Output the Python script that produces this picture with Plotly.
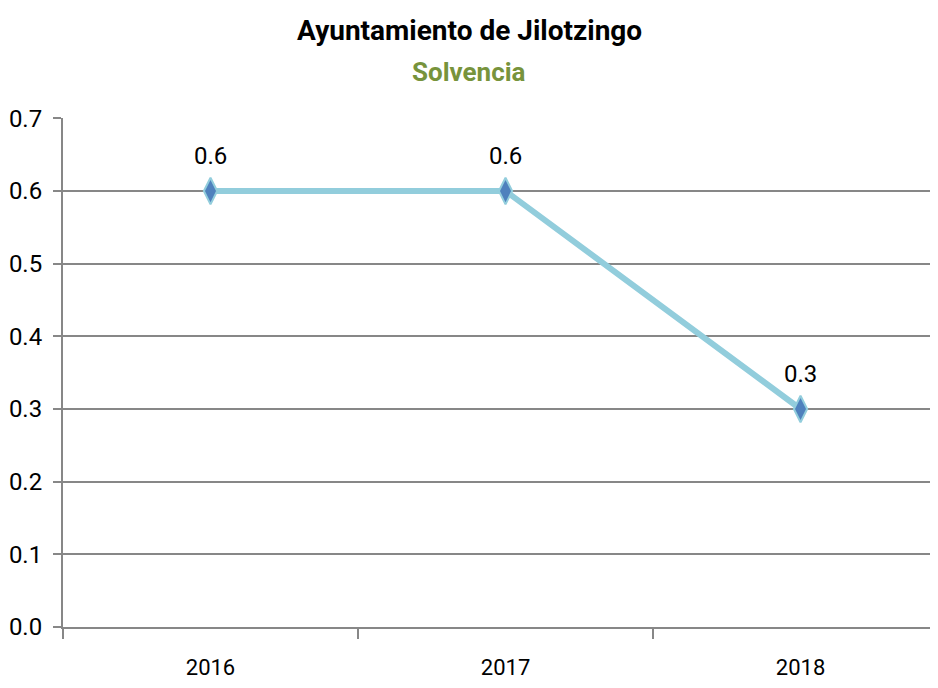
import plotly.graph_objects as go

years = ["2016", "2017", "2018"]
solvencia = [0.6, 0.6, 0.3]
labels = ["0.6", "0.6", "0.3"]
y_ticks = [0.0, 0.1, 0.2, 0.3, 0.4, 0.5, 0.6, 0.7]

FONT = "Liberation Sans Narrow, Roboto, sans-serif"
GRID = "#878787"

fig = go.Figure()
fig.add_trace(go.Scatter(
    x=years, y=solvencia, mode="lines+markers",
    line=dict(color="#92CDDC", width=6),
    marker=dict(symbol="diamond-tall", size=19, color="#4F81BD",
                line=dict(color="#92CDDC", width=2)),
    hoverinfo="skip", showlegend=False,
))

for i, (y, t) in enumerate(zip(solvencia, labels)):
    fig.add_annotation(x=i, y=y, text=t, showarrow=False, yanchor="middle",
                       yshift=35, font=dict(family=FONT, size=24, color="black"))

fig.add_annotation(xref="paper", yref="paper", x=0.464, y=1.0, yshift=88,
                   text="<b>Ayuntamiento de Jilotzingo</b>", showarrow=False,
                   yanchor="middle", font=dict(family=FONT, size=28, color="black"))
fig.add_annotation(xref="paper", yref="paper", x=0.464, y=1.0, yshift=46,
                   text="<b>Solvencia</b>", showarrow=False,
                   yanchor="middle", font=dict(family=FONT, size=26, color="#77933C"))

fig.update_layout(
    width=930, height=680,
    margin=dict(l=55, r=0, t=110, b=61, autoexpand=False),
    paper_bgcolor="white", plot_bgcolor="white",
    font=dict(family=FONT, size=22, color="black"),
)
fig.update_xaxes(
    type="category", range=[-0.5, 2.466], automargin=False,
    showgrid=False, showline=True, linecolor=GRID, linewidth=2,
    ticks="outside", tickson="boundaries", ticklen=10, tickcolor=GRID, tickwidth=1.5,
    tickfont=dict(family=FONT, size=22), ticklabelstandoff=20,
)
fig.update_yaxes(
    range=[0, 0.7005], tickvals=y_ticks, tickformat=".1f", automargin=False,
    showgrid=True, gridcolor=GRID, gridwidth=2,
    showline=True, linecolor=GRID, linewidth=2,
    ticks="outside", ticklen=8, tickcolor=GRID, tickwidth=2,
    tickfont=dict(family=FONT, size=24), zeroline=False, ticklabelstandoff=6,
)

fig.write_html("out.html")
